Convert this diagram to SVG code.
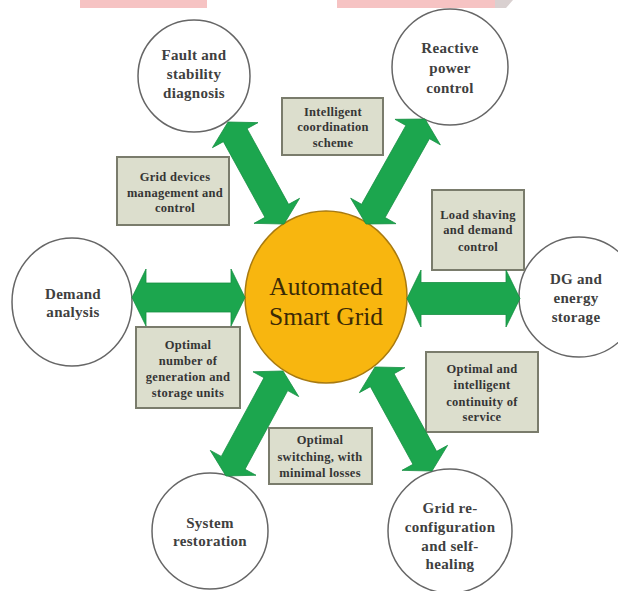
<svg xmlns="http://www.w3.org/2000/svg" width="618" height="591" viewBox="0 0 618 591">
<style>
.node{fill:#fff;stroke:#666;stroke-width:1.5}
.ct{font-family:"Liberation Serif",serif;font-weight:bold;font-size:15px;fill:#404040;text-anchor:middle;letter-spacing:0.3px}
.box{fill:#DCDECD;stroke:#7a7c6c;stroke-width:2}
.bt{font-family:"Liberation Serif",serif;font-weight:bold;font-size:12.5px;fill:#353535;text-anchor:middle;letter-spacing:0.3px}
.arr{fill:#1CA64E;stroke:#178F42;stroke-width:0.8}
.hub{fill:#F8B60F;stroke:#A87A10;stroke-width:1.5}
.ht{font-family:"Liberation Serif",serif;font-size:25.5px;fill:#3B2A06;text-anchor:middle}
</style>
<rect width="618" height="591" fill="#fff"/>
<g id="watermark">
<rect x="80" y="0" width="127" height="8" fill="#F6C3C3"/>
<rect x="337" y="0" width="158" height="8" fill="#F6C3C3"/>
<polygon points="495,0 513,0 506,8 495,8" fill="#D9D0D0"/>
</g>
<g id="fault"><circle class="node" cx="194" cy="76" r="56"/>
<text class="ct" x="194" y="60">Fault and</text><text class="ct" x="194" y="79">stability</text><text class="ct" x="194" y="98">diagnosis</text></g>
<g id="reactive"><circle class="node" cx="450" cy="67" r="58"/>
<text class="ct" x="450" y="53">Reactive</text><text class="ct" x="450" y="73">power</text><text class="ct" x="450" y="93">control</text></g>
<g id="demand"><ellipse class="node" cx="72" cy="302" rx="60" ry="64"/>
<text class="ct" x="73" y="299">Demand</text><text class="ct" x="73" y="317">analysis</text></g>
<g id="dg"><circle class="node" cx="579" cy="297" r="60"/>
<text class="ct" x="576" y="284">DG and</text><text class="ct" x="576" y="303">energy</text><text class="ct" x="576" y="322">storage</text></g>
<g id="restoration"><circle class="node" cx="210" cy="531" r="58"/>
<text class="ct" x="210" y="528">System</text><text class="ct" x="210" y="546">restoration</text></g>
<g id="reconfig"><circle class="node" cx="450" cy="531" r="62"/>
<text class="ct" x="450" y="513">Grid re-</text><text class="ct" x="450" y="532">configuration</text><text class="ct" x="450" y="551">and self-</text><text class="ct" x="450" y="569">healing</text></g>
<g id="hub"><ellipse class="hub" cx="326" cy="297" rx="81" ry="86"/>
<text class="ht" x="326" y="295">Automated</text><text class="ht" x="326" y="325">Smart Grid</text></g>
<g id="box-coordination"><rect class="box" x="282" y="98" width="101" height="57"/>
<text class="bt" x="333" y="116">Intelligent</text><text class="bt" x="333" y="131">coordination</text><text class="bt" x="333" y="147">scheme</text></g>
<g id="box-devices"><rect class="box" x="117" y="157" width="112" height="68"/>
<text class="bt" x="175" y="181">Grid devices</text><text class="bt" x="175" y="197">management and</text><text class="bt" x="175" y="212">control</text></g>
<g id="box-load"><rect class="box" x="432" y="190" width="92" height="80"/>
<text class="bt" x="478" y="219">Load shaving</text><text class="bt" x="478" y="234">and demand</text><text class="bt" x="478" y="251">control</text></g>
<g id="box-units"><rect class="box" x="136" y="327" width="104" height="81"/>
<text class="bt" x="188" y="349">Optimal</text><text class="bt" x="188" y="365">number of</text><text class="bt" x="188" y="381">generation and</text><text class="bt" x="188" y="397">storage units</text></g>
<g id="box-continuity"><rect class="box" x="426" y="352" width="112" height="80"/>
<text class="bt" x="482" y="373">Optimal and</text><text class="bt" x="482" y="389">intelligent</text><text class="bt" x="482" y="406">continuity of</text><text class="bt" x="482" y="421">service</text></g>
<g id="box-switching"><rect class="box" x="269" y="428" width="103" height="56"/>
<text class="bt" x="320" y="444">Optimal</text><text class="bt" x="320" y="461">switching, with</text><text class="bt" x="320" y="477">minimal losses</text></g>
<g id="connectors">
<polygon class="arr" points="228,122 212.43,147.66 223.39,141.65 264.95,217.35 253.99,223.36 284,224 299.57,198.34 288.61,204.35 247.05,128.65 258.01,122.64"/>
<polygon class="arr" points="425,119 394.98,119.34 405.88,125.47 361.58,204.31 350.68,198.18 366,224 396.02,223.66 385.12,217.53 429.42,138.69 440.32,144.82"/>
<polygon class="arr" points="283,371 252.99,371.78 263.97,377.74 221.29,456.38 210.31,450.42 226,476 256.01,475.22 245.03,469.26 287.71,390.62 298.69,396.58"/>
<polygon class="arr" points="375,367 359.41,392.65 370.37,386.64 412.95,464.34 401.99,470.35 432,471 447.59,445.35 436.63,451.36 394.05,373.66 405.01,367.65"/>
<polygon class="arr" points="132,297.5 146,269 146,283 231,283 231,269 245,297.5 231,326 231,312 146,312 146,326"/>
<polygon class="arr" points="407,298.5 421,270 421,282.5 506,282.5 506,270 520,298.5 506,327 506,314.5 421,314.5 421,327"/>
</g>
</svg>
